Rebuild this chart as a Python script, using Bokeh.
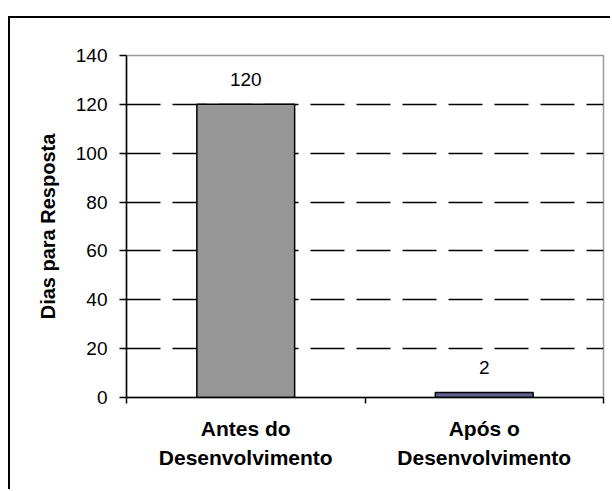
from bokeh.plotting import figure
from bokeh.models import Range1d, FixedTicker, LinearAxis, ColumnDataSource, Grid
from bokeh.core.properties import value
from bokeh.embed import file_html
from bokeh.resources import INLINE

# ---- data ----
categories = ["Antes do\nDesenvolvimento", "Após o\nDesenvolvimento"]
dias = [120, 2]
bar_colors = ["#969696", "#5d5f8e"]
y_ticks = [0, 20, 40, 60, 80, 100, 120, 140]
y_label = "Dias para Resposta"

FONT = "Liberation Sans"

centers = [i + 0.5 for i in range(len(categories))]
boundaries = [i for i in range(len(categories) + 1)]

src = ColumnDataSource(dict(x=centers, top=dias, color=bar_colors,
                            label=[str(v) for v in dias]))

p = figure(width=602, height=473, output_backend="svg", toolbar_location=None,
           x_range=Range1d(boundaries[0], boundaries[-1]),
           y_range=Range1d(y_ticks[0], y_ticks[-1]),
           x_axis_type=None, y_axis_type=None,
           min_border_left=116, min_border_right=9,
           min_border_top=37, min_border_bottom=94,
           styles={"margin-top": "16px", "margin-left": "8px",
                   "border-left": "2px solid black",
                   "border-top": "2px solid black"})

p.background_fill_color = "white"
p.border_fill_color = "white"
p.outline_line_color = "#9a9a9a"
p.outline_line_width = 1.5

# y axis
yaxis = LinearAxis(ticker=FixedTicker(ticks=y_ticks))
yaxis.axis_line_color = "black"
yaxis.axis_line_width = 1.5
yaxis.major_tick_line_color = "black"
yaxis.major_tick_line_width = 1.5
yaxis.major_tick_out = 7
yaxis.major_tick_in = 0
yaxis.minor_tick_line_color = None
yaxis.major_label_standoff = 12
yaxis.major_label_text_font = FONT
yaxis.major_label_text_font_size = "19px"
yaxis.major_label_text_color = "black"
yaxis.axis_label = y_label
yaxis.axis_label_text_font = FONT
yaxis.axis_label_text_font_size = "20px"
yaxis.axis_label_text_font_style = "bold"
yaxis.axis_label_text_color = "black"
yaxis.axis_label_standoff = 14
p.add_layout(yaxis, "left")

# x axis
xaxis = LinearAxis(ticker=FixedTicker(ticks=centers, minor_ticks=boundaries))
xaxis.axis_line_color = "black"
xaxis.axis_line_width = 1.5
xaxis.major_tick_line_color = None
xaxis.major_tick_out = 0
xaxis.major_tick_in = 0
xaxis.minor_tick_line_color = "black"
xaxis.minor_tick_line_width = 1.5
xaxis.minor_tick_out = 6
xaxis.minor_tick_in = 0
xaxis.major_label_overrides = {c: lab for c, lab in zip(centers, categories)}
xaxis.major_label_standoff = 13
xaxis.major_label_text_font = FONT
xaxis.major_label_text_font_size = "21px"
xaxis.major_label_text_font_style = "bold"
xaxis.major_label_text_color = "black"
xaxis.major_label_text_line_height = 1.3
p.add_layout(xaxis, "below")

# grid
grid = Grid(dimension=1, ticker=FixedTicker(ticks=y_ticks[1:-1]))
grid.grid_line_color = "black"
grid.grid_line_width = 1.5
grid.grid_line_dash = "34 12"
p.add_layout(grid)

p.vbar(x="x", top="top", width=0.41, bottom=0, source=src,
       fill_color="color", line_color="black", line_width=1.5)

p.text(x="x", y="top", text="label", source=src,
       text_align="center", text_baseline="alphabetic", y_offset=-25,
       text_font=value(FONT), text_font_size="19px", text_color="black")

open("out.html", "w").write(file_html(p, INLINE))
